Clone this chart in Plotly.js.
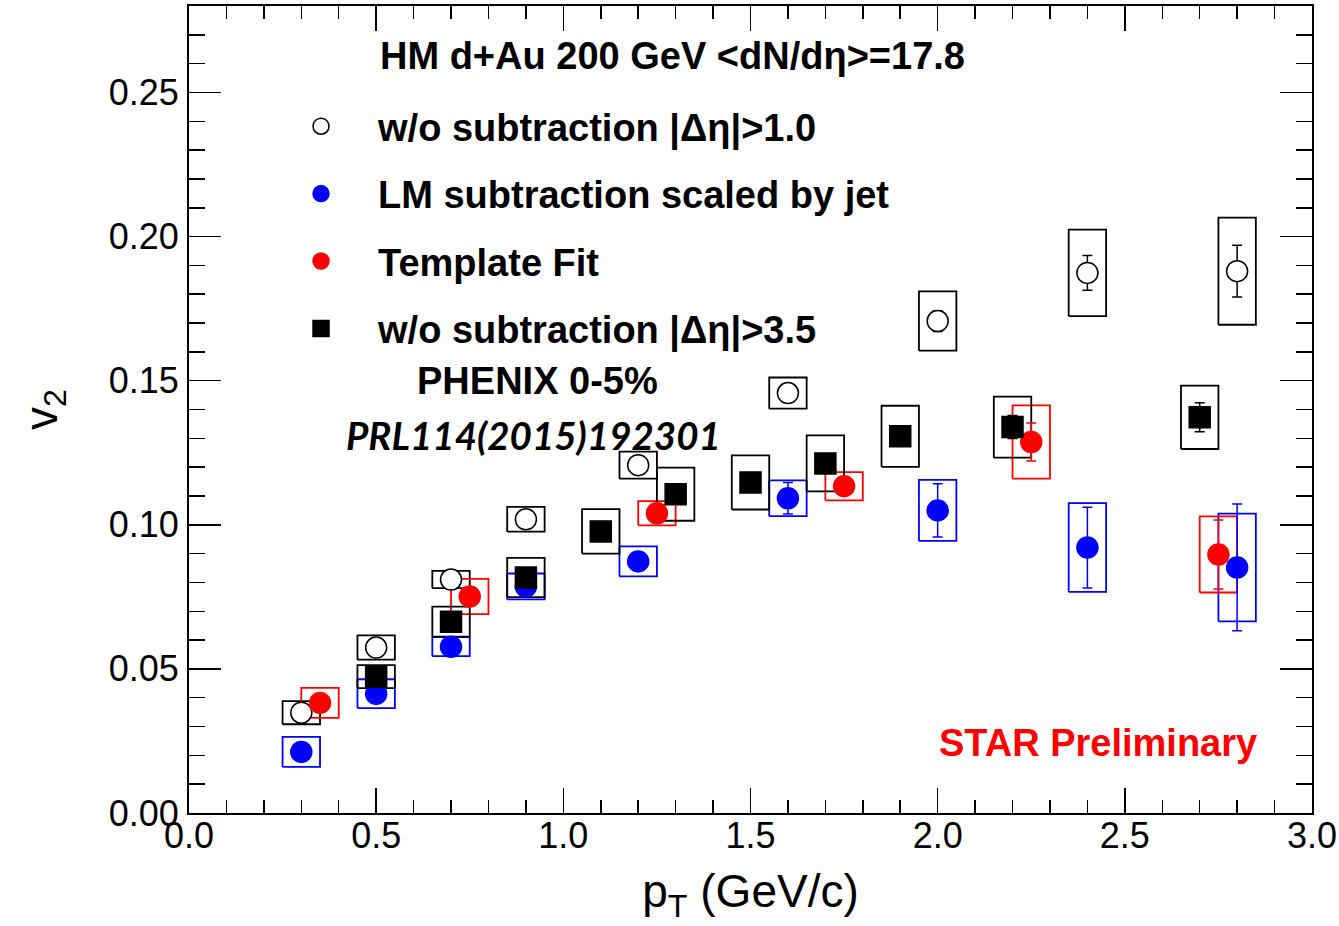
<!DOCTYPE html>
<html><head><meta charset="utf-8">
<script src="https://cdn.plot.ly/plotly-3.0.1.min.js"></script>
<style>html,body{margin:0;padding:0;background:#fff;}</style>
</head><body><div id="chart" style="width:1339px;height:926px;"></div>
<script>
// w/o subtraction |Δη|>1.0 (open circles)
const xOpen = [0.3, 0.5, 0.7, 0.9, 1.2, 1.6, 2.0, 2.4, 2.8];
const v2Open = [0.0348, 0.0574, 0.0810, 0.1019, 0.1207, 0.1457, 0.1707, 0.1874, 0.1880];
const statOpen = [0.0010, 0.0010, 0.0010, 0.0012, 0.0015, 0.0020, 0.0036, 0.0060, 0.0090];
const sysOpen = [0.0040, 0.0042, 0.0030, 0.0043, 0.0047, 0.0054, 0.0103, 0.0150, 0.0186];

// LM subtraction scaled by jet (blue)
const xLM = [0.3, 0.5, 0.7, 0.9, 1.2, 1.6, 2.0, 2.4, 2.8];
const v2LM = [0.0212, 0.0414, 0.0577, 0.0786, 0.0873, 0.1092, 0.1050, 0.0921, 0.0852];
const statLM = [0.0015, 0.0015, 0.0015, 0.0020, 0.0025, 0.0055, 0.0092, 0.0140, 0.0220];
const sysLM = [0.0052, 0.0050, 0.0033, 0.0045, 0.0052, 0.0062, 0.0106, 0.0154, 0.0187];

// Template Fit (red)
const xTF = [0.35, 0.75, 1.25, 1.75, 2.25, 2.75];
const v2TF = [0.0382, 0.0751, 0.1040, 0.1134, 0.1287, 0.0897];
const statTF = [0.0015, 0.0020, 0.0025, 0.0030, 0.0066, 0.0120];
const sysTF = [0.0052, 0.0061, 0.0042, 0.0049, 0.0127, 0.0132];

// w/o subtraction |Δη|>3.5, PHENIX 0-5% (black squares)
const xPH = [0.5, 0.7, 0.9, 1.1, 1.3, 1.5, 1.7, 1.9, 2.2, 2.7];
const v2PH = [0.0473, 0.0664, 0.0817, 0.0977, 0.1106, 0.1147, 0.1213, 0.1307, 0.1339, 0.1373];
const statPH = [0.0010, 0.0010, 0.0012, 0.0015, 0.0020, 0.0020, 0.0025, 0.0030, 0.0040, 0.0050];
const sysPH = [0.0040, 0.0052, 0.0068, 0.0077, 0.0092, 0.0094, 0.0097, 0.0106, 0.0106, 0.0110];

const seriesNames = ['w/o subtraction |Δη|>1.0', 'LM subtraction scaled by jet', 'Template Fit', 'w/o subtraction |Δη|>3.5'];
const xTickVals = [0, 0.5, 1.0, 1.5, 2.0, 2.5, 3.0];
const yTickVals = [0, 0.05, 0.10, 0.15, 0.20, 0.25];

const BOX_HW = 0.05;
const FONT = 'Liberation Sans, Arial, Helvetica, sans-serif';

function boxTrace(xs, ys, sys, color) {
  const X = [], Y = [];
  xs.forEach((x, i) => {
    const lo = ys[i] - sys[i], hi = ys[i] + sys[i];
    X.push(x - BOX_HW, x + BOX_HW, x + BOX_HW, x - BOX_HW, x - BOX_HW, null);
    Y.push(lo, lo, hi, hi, lo, null);
  });
  return {x: X, y: Y, mode: 'lines', type: 'scatter', showlegend: false, hoverinfo: 'skip',
          line: {color: color, width: 1.8}};
}
function ptTrace(xs, ys, errs, name, symbol, color, lineColor, group) {
  return {x: xs, y: ys, name: name, type: 'scatter', mode: 'markers', legendgroup: group,
          marker: {symbol: symbol, size: 21, color: color, line: {color: lineColor, width: 1.5}},
          error_y: {type: 'data', array: errs, visible: true, color: lineColor, thickness: 1.5, width: 5}};
}

const data = [
  boxTrace(xOpen, v2Open, sysOpen, '#000'),
  boxTrace(xLM, v2LM, sysLM, '#0000ff'),
  boxTrace(xTF, v2TF, sysTF, '#ff0000'),
  boxTrace(xPH, v2PH, sysPH, '#000'),
  ptTrace(xOpen, v2Open, statOpen, seriesNames[0], 'circle', '#fff', '#000', 'a'),
  ptTrace(xLM, v2LM, statLM, seriesNames[1], 'circle', '#0000ff', '#0000ff', 'b'),
  ptTrace(xTF, v2TF, statTF, seriesNames[2], 'circle', '#ff0000', '#ff0000', 'c'),
  ptTrace(xPH, v2PH, statPH, seriesNames[3], 'square', '#000', '#000', 'd')
];

const axisCommon = {showline: true, linecolor: '#000', linewidth: 2, mirror: 'allticks',
  ticks: 'inside', tickcolor: '#000', tickwidth: 1.5, showgrid: false, zeroline: false,
  tickfont: {family: FONT, size: 36, color: '#000'}};

const layout = {
  width: 1339, height: 926,
  margin: {l: 189, r: 27, t: 6, b: 113},
  paper_bgcolor: '#fff', plot_bgcolor: '#fff',
  font: {family: FONT, color: '#000'},
  xaxis: Object.assign({}, axisCommon, {
    range: [0, 3.0], tickvals: xTickVals, tickformat: '.1f', ticklen: 25, ticklabelstandoff: -10,
    minor: {dtick: 0.1, ticks: 'inside', ticklen: 13, tickwidth: 1.5, tickcolor: '#000', showgrid: false},
    title: {text: 'p<sub>T</sub> (GeV/c)', font: {family: FONT, size: 46, color: '#000'}, standoff: 20}
  }),
  yaxis: Object.assign({}, axisCommon, {
    range: [0, 0.28], tickvals: yTickVals, tickformat: '.2f', ticklen: 32, ticklabelstandoff: 1,
    minor: {dtick: 0.01, ticks: 'inside', ticklen: 16, tickwidth: 1.5, tickcolor: '#000', showgrid: false},
    title: {text: 'v<sub>2</sub>', font: {family: FONT, size: 46, color: '#000'}, standoff: 37}
  }),
  showlegend: true,
  legend: {x: 0.0668, y: 0.8897, xanchor: 'left', yanchor: 'top', bgcolor: 'rgba(0,0,0,0)',
    font: {family: FONT, size: 38, weight: 'bold', color: '#000'}, itemwidth: 104, tracegroupgap: 15,
    traceorder: 'grouped'},
  annotations: [
    {x: 0.505, y: 0.2625, xref: 'x', yref: 'y', xanchor: 'left', yanchor: 'middle', showarrow: false,
     text: 'HM d+Au 200 GeV &lt;dN/dη&gt;=17.8', font: {family: FONT, size: 38, weight: 'bold', color: '#000'}},
    {x: 0.604, y: 0.1499, xref: 'x', yref: 'y', xanchor: 'left', yanchor: 'middle', showarrow: false,
     text: 'PHENIX 0-5%', font: {family: FONT, size: 38, weight: 'bold', color: '#000'}},
    {x: 0.92, y: 0.1311, xref: 'x', yref: 'y', xanchor: 'center', yanchor: 'middle', showarrow: false,
     text: 'PRL114(2015)192301', font: {family: 'Lato, sans-serif', size: 38.5, weight: 'bold', style: 'italic', color: '#000'}},
    {x: 2.428, y: 0.0243, xref: 'x', yref: 'y', xanchor: 'center', yanchor: 'middle', showarrow: false,
     text: 'STAR Preliminary', font: {family: FONT, size: 38, weight: 'bold', color: '#ff0000'}}
  ]
};

Plotly.newPlot('chart', data, layout, {displayModeBar: false, staticPlot: true});
</script></body></html>
